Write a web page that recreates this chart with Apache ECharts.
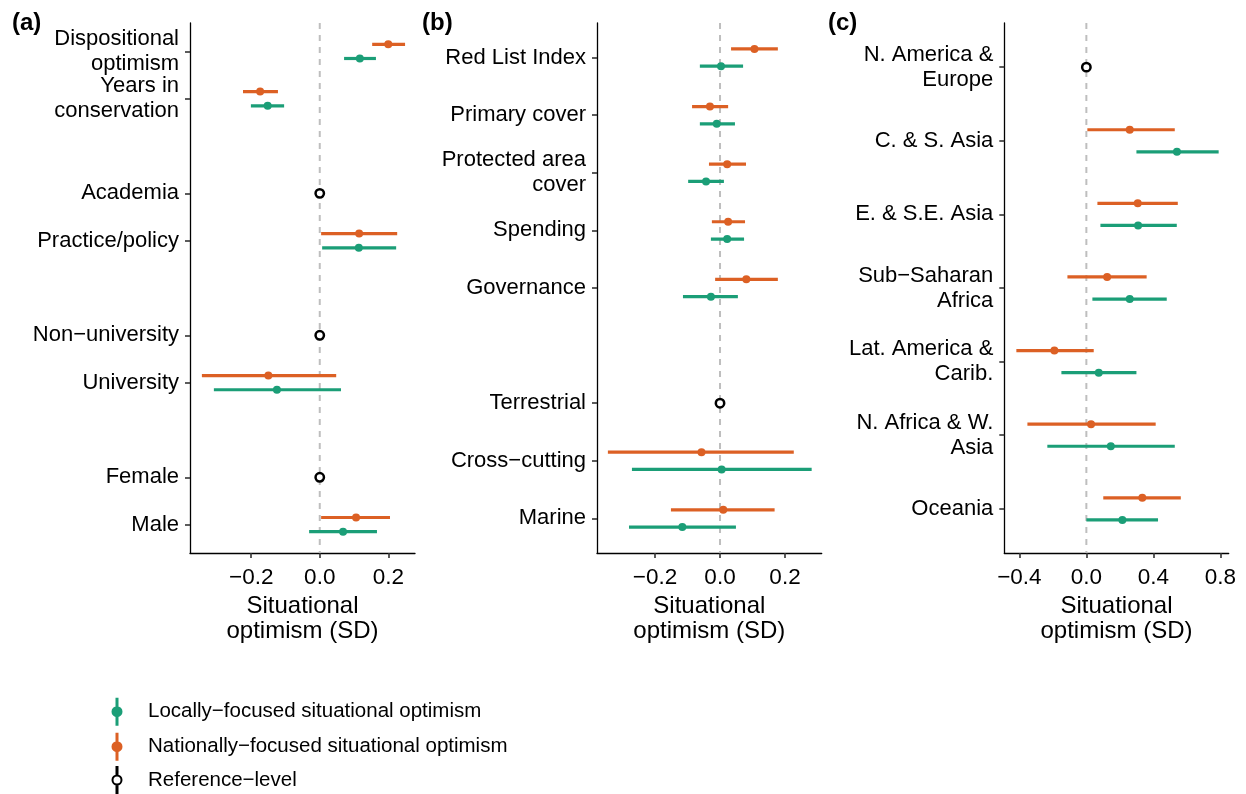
<!DOCTYPE html>
<html>
<head>
<meta charset="utf-8">
<script src="https://cdn.jsdelivr.net/npm/echarts@6/dist/echarts.min.js"></script>
<style>
html,body{margin:0;padding:0;background:#fff;}
#chart{width:1246px;height:794px;}
</style>
</head>
<body>
<div id="chart"></div>
<script>
// ---------- Panel (a) ----------
const aCategories = ['Dispositional\noptimism','Years in\nconservation','','Academia','Practice/policy','','Non\u2212university','University','','Female','Male'];
const aLocalEst  = [0.117,-0.152,null,null,0.114,null,null,-0.125,null,null,0.068];
const aLocalLow  = [0.071,-0.201,null,null,0.007,null,null,-0.309,null,null,-0.031];
const aLocalHigh = [0.164,-0.104,null,null,0.223,null,null,0.062,null,null,0.167];
const aNatEst    = [0.200,-0.174,null,null,0.115,null,null,-0.150,null,null,0.106];
const aNatLow    = [0.153,-0.224,null,null,0.004,null,null,-0.344,null,null,0.004];
const aNatHigh   = [0.249,-0.122,null,null,0.226,null,null,0.048,null,null,0.205];
const aRef       = [null,null,null,0,null,null,0,null,null,0,null];
const aTicks     = [-0.2,0,0.2];

// ---------- Panel (b) ----------
const bCategories = ['Red List Index','Primary cover','Protected area\ncover','Spending','Governance','','Terrestrial','Cross\u2212cutting','Marine'];
const bLocalEst  = [0.003,-0.010,-0.043,0.022,-0.028,null,null,0.005,-0.116];
const bLocalLow  = [-0.062,-0.062,-0.098,-0.028,-0.114,null,null,-0.271,-0.280];
const bLocalHigh = [0.071,0.046,0.012,0.074,0.055,null,null,0.282,0.049];
const bNatEst    = [0.106,-0.031,0.022,0.025,0.081,null,null,-0.057,0.010];
const bNatLow    = [0.034,-0.086,-0.034,-0.025,-0.015,null,null,-0.345,-0.151];
const bNatHigh   = [0.178,0.025,0.080,0.077,0.178,null,null,0.227,0.168];
const bRef       = [null,null,null,null,null,null,0,null,null];
const bTicks     = [-0.2,0,0.2];

// ---------- Panel (c) ----------
const cCategories = ['N. America &\nEurope','C. & S. Asia','E. & S.E. Asia','Sub\u2212Saharan\nAfrica','Lat. America &\nCarib.','N. Africa & W.\nAsia','Oceania'];
const cLocalEst  = [null,0.541,0.309,0.259,0.074,0.146,0.215];
const cLocalLow  = [null,0.299,0.084,0.036,-0.149,-0.233,0.000];
const cLocalHigh = [null,0.790,0.540,0.480,0.299,0.528,0.428];
const cNatEst    = [null,0.259,0.307,0.124,-0.191,0.028,0.334];
const cNatLow    = [null,0.006,0.066,-0.113,-0.418,-0.352,0.101];
const cNatHigh   = [null,0.528,0.546,0.360,0.044,0.414,0.564];
const cRef       = [0,null,null,null,null,null,null];
const cTicks     = [-0.4,0,0.4,0.8];

const panelLabels = ['(a)','(b)','(c)'];
const xTitle = 'Situational\noptimism (SD)';
const refLineX = 0;
const nameLocal = 'Locally\u2212focused situational optimism';
const nameNat = 'Nationally\u2212focused situational optimism';
const nameRef = 'Reference\u2212level';
const legendNames = [nameLocal, nameNat, nameRef];

// ---------- styling ----------
const FONT = '"Liberation Sans", Arial, Helvetica, sans-serif';
const GREEN = '#1B9E77';
const ORANGE = '#DC6024';
const Y_PAD = -0.6; // axis expansion (in row units)

const panels = [
  {cats:aCategories, le:aLocalEst, ll:aLocalLow, lh:aLocalHigh, ne:aNatEst, nl:aNatLow, nh:aNatHigh, ref:aRef, ticks:aTicks,
   grid:{left:190, top:23, width:225, height:530}, xmin:-0.3787, xmax:0.278},
  {cats:bCategories, le:bLocalEst, ll:bLocalLow, lh:bLocalHigh, ne:bNatEst, nl:bNatLow, nh:bNatHigh, ref:bRef, ticks:bTicks,
   grid:{left:597, top:23, width:224.7, height:530}, xmin:-0.3785, xmax:0.3129},
  {cats:cCategories, le:cLocalEst, ll:cLocalLow, lh:cLocalHigh, ne:cNatEst, nl:cNatLow, nh:cNatHigh, ref:cRef, ticks:cTicks,
   grid:{left:1004.3, top:23, width:224.4, height:530}, xmin:-0.49, xmax:0.85}
];

function fmtTick(v){
  const s = Math.abs(v).toFixed(1);
  return (v < -1e-9 ? '\u2212' : '') + s;
}

function errSeries(name, color, low, high, est, idx, offset){
  const data = [];
  est.forEach((e,i)=>{ if(e!==null) data.push([low[i], high[i], e, i]); });
  return {
    type:'custom', name:name, xAxisIndex:idx, yAxisIndex:idx, z:3,
    itemStyle:{color:color},
    encode:{x:[0,1,2], y:3},
    data:data,
    renderItem:function(params, api){
      const row = api.value(3) + offset;
      const p1 = api.coord([api.value(0), row]);
      const p2 = api.coord([api.value(1), row]);
      const pc = api.coord([api.value(2), row]);
      return {type:'group', children:[
        {type:'line', shape:{x1:p1[0], y1:p1[1], x2:p2[0], y2:p2[1]}, style:{stroke:color, lineWidth:3.2}},
        {type:'circle', shape:{cx:pc[0], cy:pc[1], r:4}, style:{fill:color}}
      ]};
    }
  };
}

function refSeries(ref, idx){
  const data = [];
  ref.forEach((v,i)=>{ if(v!==null) data.push([v, i]); });
  return {
    type:'custom', name:nameRef, xAxisIndex:idx, yAxisIndex:idx, z:4,
    itemStyle:{color:'#000'},
    encode:{x:0, y:1},
    data:data,
    renderItem:function(params, api){
      const p = api.coord([api.value(0), api.value(1)]);
      return {type:'circle', shape:{cx:p[0], cy:p[1], r:4.2}, style:{fill:'#fff', stroke:'#000', lineWidth:2.5}};
    }
  };
}

function zeroLine(idx){
  return {
    type:'custom', xAxisIndex:idx, yAxisIndex:idx, z:1, silent:true,
    encode:{x:0, y:1},
    data:[[refLineX, 0]],
    renderItem:function(params, api){
      const cs = params.coordSys;
      const x = api.coord([api.value(0), 0])[0];
      return {type:'line', shape:{x1:x, y1:cs.y, x2:x, y2:cs.y + cs.height},
        style:{stroke:'#BEBEBE', lineWidth:2, lineDash:[6,6]}};
    }
  };
}

const grids = [], xAxes = [], yAxes = [], series = [], titles = [];
const labelX = [12, 422, 828];
panels.forEach((p, idx)=>{
  grids.push(p.grid);
  const yTicks = [];
  p.cats.forEach((c,i)=>{ if(c !== '') yTicks.push(i); });
  // a blank placeholder label at the axis start so real labels are never dropped as overlapping
  const yLabelVals = [Y_PAD].concat(yTicks);
  xAxes.push({
    type:'value', gridIndex:idx, min:p.xmin, max:p.xmax,
    axisLine:{show:true, onZero:false, lineStyle:{color:'#000', width:1.3}},
    axisTick:{show:true, length:5, customValues:p.ticks, lineStyle:{color:'#333', width:1.6}},
    axisLabel:{customValues:p.ticks, formatter:fmtTick, fontSize:22.5, color:'#000', fontFamily:FONT, margin:13,
      hideOverlap:false, showMinLabel:true, showMaxLabel:true},
    splitLine:{show:false},
    name:xTitle, nameLocation:'middle', nameGap:41,
    nameTextStyle:{fontSize:24, lineHeight:25, color:'#000', fontFamily:FONT}
  });
  yAxes.push({
    type:'value', gridIndex:idx, inverse:true, min:Y_PAD, max:p.cats.length - 1 - Y_PAD,
    axisLine:{show:true, onZero:false, lineStyle:{color:'#000', width:1.3}},
    axisTick:{show:true, length:5, customValues:yTicks, lineStyle:{color:'#333', width:1.6}},
    axisLabel:{customValues:yLabelVals,
      formatter:function(v){ const k = Math.round(v); return (k >= 0 && Math.abs(v - k) < 1e-6) ? p.cats[k] : ''; },
      fontSize:22, lineHeight:25, padding:[4,0,0,0], color:'#000', fontFamily:FONT, margin:11,
      hideOverlap:false},
    splitLine:{show:false}
  });
  series.push(zeroLine(idx));
  series.push(errSeries(nameNat, ORANGE, p.nl, p.nh, p.ne, idx, -0.15));
  series.push(errSeries(nameLocal, GREEN, p.ll, p.lh, p.le, idx, 0.15));
  series.push(refSeries(p.ref, idx));
  titles.push({text:panelLabels[idx], left:labelX[idx], top:11, padding:0,
    textStyle:{fontSize:24, fontWeight:'bold', color:'#000', fontFamily:FONT}});
});

const iconDot = 'path://M4.5 0H7.5V28H4.5Z M0.5 14A5.5 5.5 0 1 1 11.5 14A5.5 5.5 0 1 1 0.5 14Z';
const iconRef = 'path://M4.5 0H7.5V9H4.5Z M4.5 19H7.5V28H4.5Z M0.5 14A5.5 5.5 0 1 1 11.5 14A5.5 5.5 0 1 1 0.5 14Z M2.5 14A3.5 3.5 0 1 0 9.5 14A3.5 3.5 0 1 0 2.5 14Z';
const legendIcons = [iconDot, iconDot, iconRef];
const legendTops = [697.7, 732.7, 766];

const legends = legendNames.map((n, i)=>({
  orient:'vertical', left:111.5, top:legendTops[i], padding:0,
  itemWidth:52, itemHeight:28, selectedMode:false,
  textStyle:{fontSize:20.5, color:'#000', fontFamily:FONT},
  data:[{name:n, icon:legendIcons[i]}]
}));

const chart = echarts.init(document.getElementById('chart'), null, {renderer:'canvas'});
chart.setOption({
  animation:false,
  backgroundColor:'#fff',
  textStyle:{fontFamily:FONT},
  title:titles,
  grid:grids,
  xAxis:xAxes,
  yAxis:yAxes,
  legend:legends,
  series:series
});
</script>
</body>
</html>
